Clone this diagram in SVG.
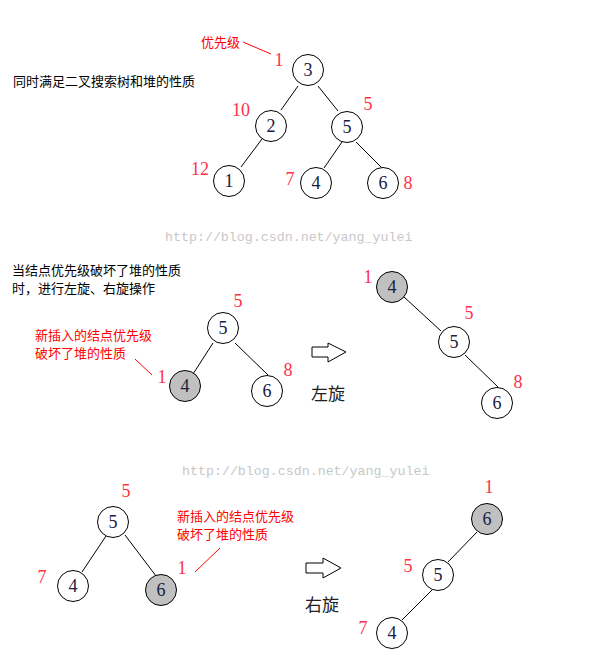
<svg xmlns="http://www.w3.org/2000/svg" width="594" height="669" viewBox="0 0 594 669">
<style>
.node{fill:#ffffff;stroke:#000000;stroke-width:1}
.hot{fill:#c0c0c0;stroke:#000000;stroke-width:1}
.nt{font-family:"Liberation Serif",serif;font-size:18px;fill:#1a2040;text-anchor:middle}
.pr{font-family:"Liberation Serif",serif;font-size:18px;fill:#ff3048;text-anchor:middle}
.edge{stroke:#000000;stroke-width:1;fill:none}
.cap{font-family:"Noto Sans CJK SC","Noto Sans",sans-serif;font-size:13px;fill:#000000}
.red{font-family:"Noto Sans CJK SC","Noto Sans",sans-serif;font-size:13px;fill:#ff0000}
.rl{stroke:#ff0000;stroke-width:1;fill:none}
.wm{font-family:"Liberation Mono",monospace;font-size:13.3px;fill:#c8c8c8}
.big{font-family:"Noto Sans CJK SC","Noto Sans",sans-serif;font-size:17px;fill:#202020}
.arrow{fill:#ffffff;stroke:#000000;stroke-width:1}
</style>
<rect width="594" height="669" fill="#ffffff"/>

<g id="texts">
<text class="cap" x="13" y="86">同时满足二叉搜索树和堆的性质</text>
<text class="red" x="201" y="47">优先级</text>
<text class="cap" x="12" y="275">当结点优先级破坏了堆的性质</text>
<text class="cap" x="12" y="293">时，进行左旋、右旋操作</text>
<text class="red" x="35" y="340">新插入的结点优先级</text>
<text class="red" x="35" y="358">破坏了堆的性质</text>
<text class="red" x="177" y="521">新插入的结点优先级</text>
<text class="red" x="177" y="539">破坏了堆的性质</text>
<text class="wm" x="165" y="241">http://blog.csdn.net/yang_yulei</text>
<text class="wm" x="182" y="475">http://blog.csdn.net/yang_yulei</text>
<text class="big" x="311" y="400">左旋</text>
<text class="big" x="305" y="611">右旋</text>
</g>

<g id="connectors">
<line class="rl" x1="243" y1="42" x2="271" y2="54"/>
<line class="rl" x1="135" y1="359" x2="152" y2="375"/>
<line class="rl" x1="220" y1="548" x2="195" y2="572"/>
<line class="edge" x1="298" y1="86" x2="281" y2="110"/>
<line class="edge" x1="318" y1="86" x2="338" y2="111"/>
<line class="edge" x1="262" y1="139" x2="241" y2="167"/>
<line class="edge" x1="342" y1="142" x2="324" y2="168"/>
<line class="edge" x1="356" y1="142" x2="382" y2="168"/>
<line class="edge" x1="213" y1="343" x2="193" y2="374"/>
<line class="edge" x1="235" y1="343" x2="268" y2="375"/>
<line class="edge" x1="404" y1="297" x2="441" y2="331"/>
<line class="edge" x1="465" y1="355" x2="498" y2="387"/>
<line class="edge" x1="106" y1="536" x2="82" y2="572"/>
<line class="edge" x1="125" y1="535" x2="156" y2="576"/>
<line class="edge" x1="477" y1="532" x2="448" y2="562"/>
<line class="edge" x1="432" y1="590" x2="402" y2="620"/>
<polygon class="arrow" points="312,347 328,347 328,343 346,352 328,362 328,357 312,357"/>
<polygon class="arrow" points="306,563 323,563 323,558 341,568 323,578 323,573 306,573"/>
</g>

<g id="t1-n3"><circle class="node" cx="308" cy="70" r="15.5"/><text class="nt" x="308" y="76">3</text><text class="pr" x="279" y="66">1</text></g>
<g id="t1-n2"><circle class="node" cx="271" cy="126" r="15.5"/><text class="nt" x="271" y="132">2</text><text class="pr" x="241" y="116">10</text></g>
<g id="t1-n5"><circle class="node" cx="347" cy="127" r="15.5"/><text class="nt" x="347" y="133">5</text><text class="pr" x="368" y="110">5</text></g>
<g id="t1-n1"><circle class="node" cx="229" cy="181" r="15.5"/><text class="nt" x="229" y="187">1</text><text class="pr" x="200" y="175">12</text></g>
<g id="t1-n4"><circle class="node" cx="316" cy="183" r="15.5"/><text class="nt" x="316" y="189">4</text><text class="pr" x="290" y="185">7</text></g>
<g id="t1-n6"><circle class="node" cx="383" cy="183" r="15.5"/><text class="nt" x="383" y="189">6</text><text class="pr" x="408" y="189">8</text></g>

<g id="t2-n5"><circle class="node" cx="223" cy="328" r="15.5"/><text class="nt" x="223" y="334">5</text><text class="pr" x="238" y="307">5</text></g>
<g id="t2-n4"><circle class="hot" cx="185" cy="386" r="15.5"/><text class="nt" x="185" y="392">4</text><text class="pr" x="162" y="383">1</text></g>
<g id="t2-n6"><circle class="node" cx="267" cy="391" r="15.5"/><text class="nt" x="267" y="397">6</text><text class="pr" x="288" y="376">8</text></g>

<g id="t3-n4"><circle class="hot" cx="392" cy="287" r="15.5"/><text class="nt" x="392" y="293">4</text><text class="pr" x="368" y="283">1</text></g>
<g id="t3-n5"><circle class="node" cx="454" cy="342" r="15.5"/><text class="nt" x="454" y="348">5</text><text class="pr" x="469" y="319">5</text></g>
<g id="t3-n6"><circle class="node" cx="497" cy="403" r="15.5"/><text class="nt" x="497" y="409">6</text><text class="pr" x="518" y="388">8</text></g>

<g id="t4-n5"><circle class="node" cx="113" cy="522" r="15.5"/><text class="nt" x="113" y="528">5</text><text class="pr" x="126" y="497">5</text></g>
<g id="t4-n4"><circle class="node" cx="73" cy="586" r="15.5"/><text class="nt" x="73" y="592">4</text><text class="pr" x="42" y="583">7</text></g>
<g id="t4-n6"><circle class="hot" cx="161" cy="590" r="15.5"/><text class="nt" x="161" y="596">6</text><text class="pr" x="182" y="574">1</text></g>

<g id="t5-n6"><circle class="hot" cx="487" cy="519" r="15.5"/><text class="nt" x="487" y="525">6</text><text class="pr" x="489" y="493">1</text></g>
<g id="t5-n5"><circle class="node" cx="438" cy="575" r="15.5"/><text class="nt" x="438" y="581">5</text><text class="pr" x="408" y="572">5</text></g>
<g id="t5-n4"><circle class="node" cx="392" cy="633" r="15.5"/><text class="nt" x="392" y="639">4</text><text class="pr" x="363" y="634">7</text></g>
</svg>
